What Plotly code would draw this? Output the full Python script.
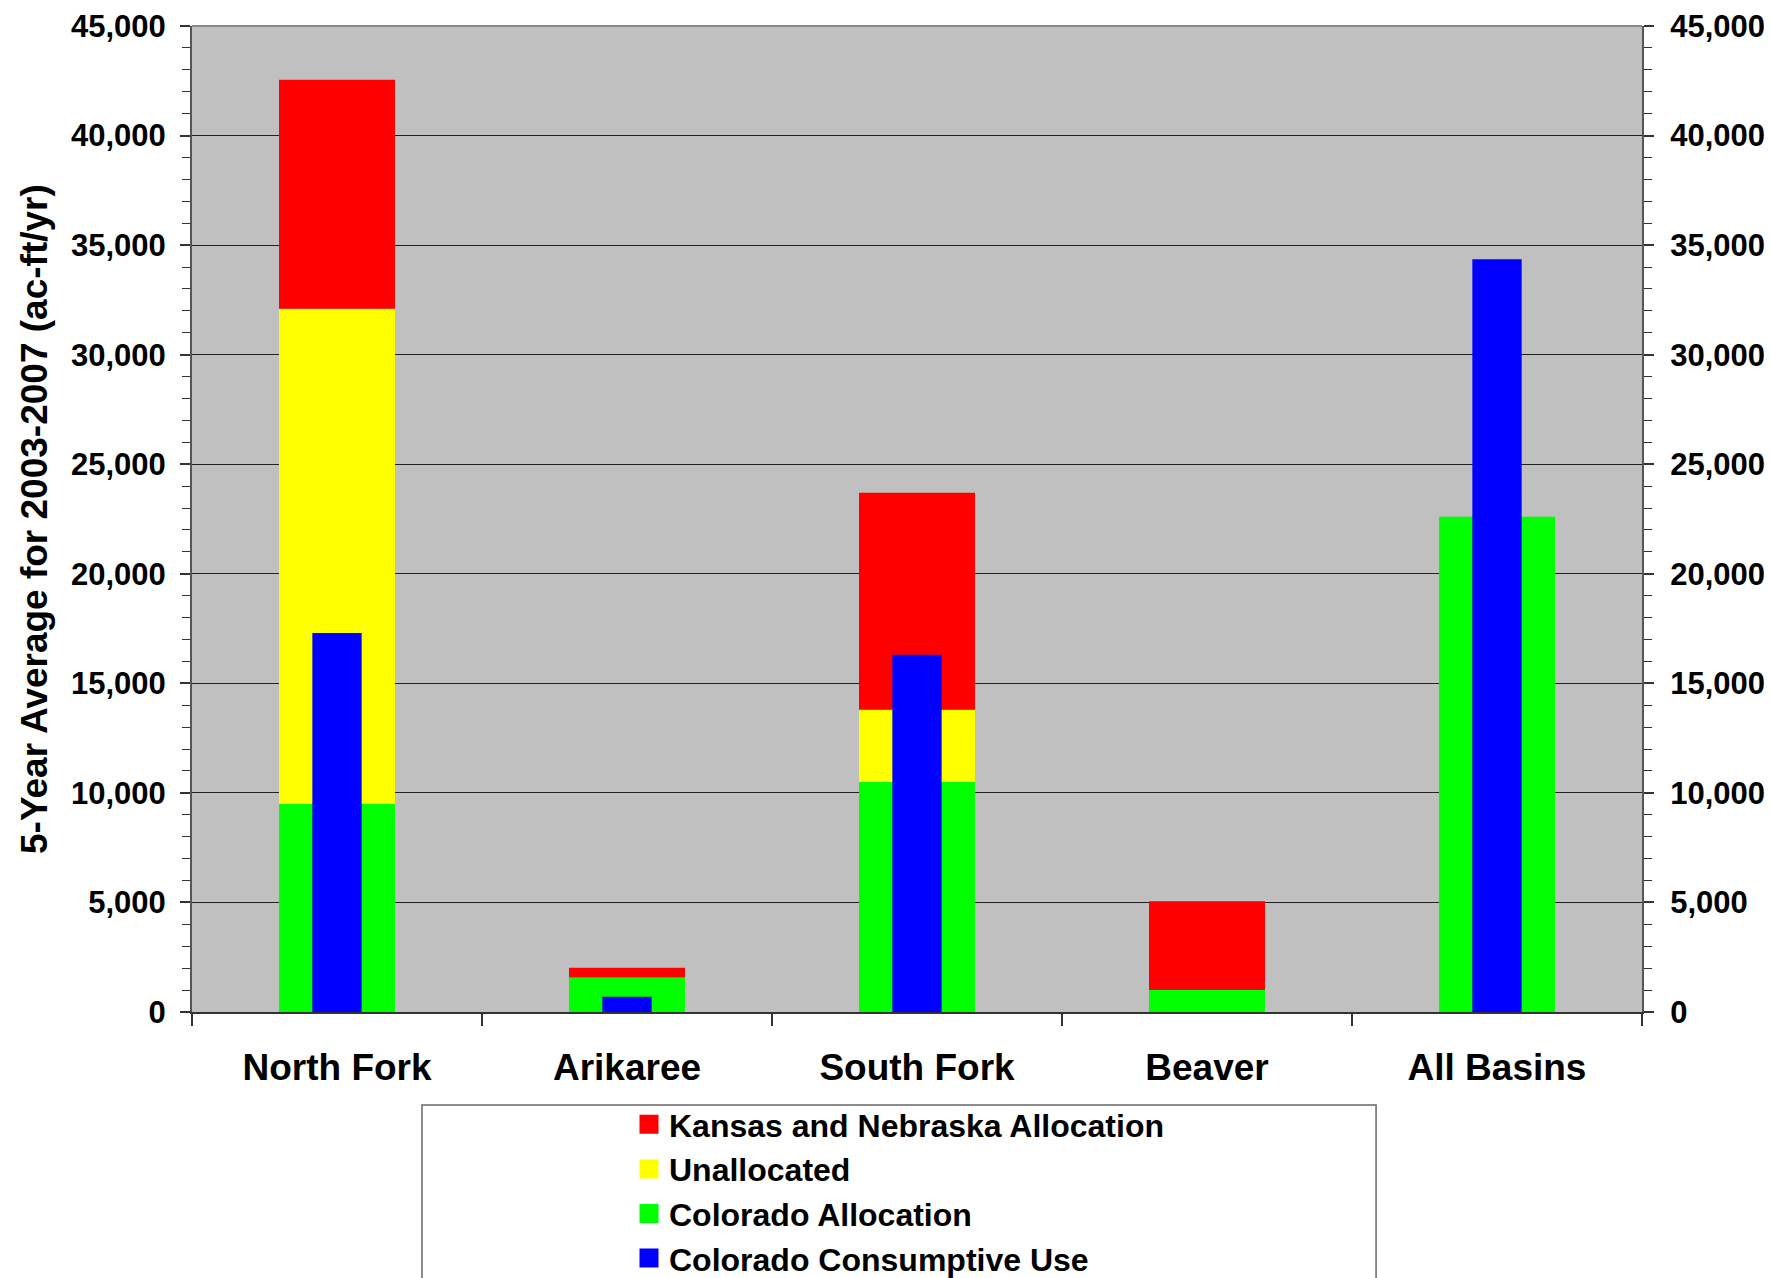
import numpy as np
import plotly.graph_objects as go

categories = ["North Fork", "Arikaree", "South Fork", "Beaver", "All Basins"]
colorado_allocation = [9500, 1580, 10500, 1000, 22600]
unallocated = [22600, 0, 3300, 0, 0]
kansas_nebraska = [10450, 440, 9900, 4050, 0]
consumptive_use = [17300, 700, 16300, None, 34350]

y_ticks = [0, 5000, 10000, 15000, 20000, 25000, 30000, 35000, 40000, 45000]
y_tick_text = ["0", "5,000", "10,000", "15,000", "20,000", "25,000", "30,000", "35,000", "40,000", "45,000"]
y_title = "5-Year Average for 2003-2007 (ac-ft/yr)"

FONT = "Liberation Sans, Arial, sans-serif"

ca = np.array(colorado_allocation, dtype=float)
un = np.array(unallocated, dtype=float)
kn = np.array(kansas_nebraska, dtype=float)

series_names = ["Colorado Allocation", "Unallocated", "Kansas and Nebraska Allocation", "Colorado Consumptive Use"]
series_colors = ["#00FF00", "#FFFF00", "#FF0000", "#0000FF"]
legend_ranks = [3, 2, 1, 4]

fig = go.Figure()
fig.add_trace(go.Bar(x=categories, y=ca, base=np.zeros(5), name=series_names[0],
                     marker=dict(color=series_colors[0], line=dict(width=0)), width=0.40, showlegend=False))
fig.add_trace(go.Bar(x=categories, y=un, base=ca, name=series_names[1],
                     marker=dict(color=series_colors[1], line=dict(width=0)), width=0.40, showlegend=False))
fig.add_trace(go.Bar(x=categories, y=kn, base=ca + un, name=series_names[2],
                     marker=dict(color=series_colors[2], line=dict(width=0)), width=0.40, showlegend=False))
fig.add_trace(go.Bar(x=categories, y=consumptive_use, name=series_names[3],
                     marker=dict(color=series_colors[3], line=dict(width=0)), width=0.17, showlegend=False))
# legend entries with larger square keys
for nm, col, rk in zip(series_names, series_colors, legend_ranks):
    fig.add_trace(go.Scatter(x=[None], y=[None], mode="markers", name=nm, legendrank=rk,
                             marker=dict(symbol="square", size=16, color=col, line=dict(color=col, width=3)),
                             hoverinfo="skip"))
# companion trace for the right-hand axis
fig.add_trace(go.Scatter(x=categories, y=[0] * 5, yaxis="y2", mode="markers",
                         marker=dict(opacity=0), showlegend=False, hoverinfo="skip"))

tickfont = dict(family=FONT, size=31, color="black", weight="bold")

fig.update_layout(
    width=1771, height=1278,
    barmode="overlay",
    paper_bgcolor="white",
    plot_bgcolor="#C0C0C0",
    margin=dict(l=192, r=129, t=26, b=266, autoexpand=False),
    showlegend=True,
    legend=dict(x=629 / 1771, y=1 - 1097 / 1278, xref="container", yref="container",
                xanchor="left", yanchor="top", itemsizing="trace",
                font=dict(family=FONT, size=32, color="black", weight="bold"),
                bgcolor="rgba(0,0,0,0)", borderwidth=0, traceorder="normal"),
    xaxis=dict(
        type="category", range=[-0.5, 4.5],
        tickfont=dict(family=FONT, size=37, color="black", weight="bold"),
        ticks="outside", tickson="boundaries", ticklen=12, tickwidth=1.5, tickcolor="#333",
        ticklabelstandoff=22,
        showline=True, linecolor="#333", linewidth=2,
        showgrid=False, zeroline=False,
    ),
    yaxis=dict(
        range=[0, 45000], tickvals=y_ticks, ticktext=y_tick_text,
        tickfont=tickfont,
        ticks="outside", ticklen=10, tickwidth=1.5, tickcolor="#333",
        minor=dict(dtick=1000, ticks="outside", ticklen=8, tickwidth=1, tickcolor="#333", showgrid=False),
        ticklabelstandoff=8,
        showline=True, linecolor="#555", linewidth=2,
        showgrid=True, gridcolor="#222", gridwidth=1,
        zeroline=False,
    ),
    yaxis2=dict(
        overlaying="y", side="right", range=[0, 45000], tickvals=y_ticks, ticktext=y_tick_text,
        tickfont=tickfont,
        ticks="outside", ticklen=10, tickwidth=1.5, tickcolor="#333",
        minor=dict(dtick=1000, ticks="outside", ticklen=8, tickwidth=1, tickcolor="#333", showgrid=False),
        ticklabelstandoff=10,
        showline=True, linecolor="#555", linewidth=2,
        showgrid=False, zeroline=False,
    ),
    annotations=[
        dict(text=y_title, xref="paper", yref="paper", x=(34 - 192) / 1450, y=0.5,
             xanchor="center", yanchor="middle", textangle=-90, showarrow=False,
             font=dict(family=FONT, size=37, color="black", weight="bold")),
    ],
    shapes=[
        dict(type="line", xref="paper", yref="paper", x0=0, x1=1, y0=1, y1=1,
             line=dict(color="#888", width=2)),
        dict(type="rect", xref="paper", yref="paper", x0=0.1586, x1=0.8166, y0=-0.0943, y1=-0.40,
             line=dict(color="#666", width=1.5), fillcolor="rgba(0,0,0,0)", layer="above"),
    ],
)

fig.write_html("out.html", config={"displayModeBar": False},
               post_script="document.body.style.margin='0';")
